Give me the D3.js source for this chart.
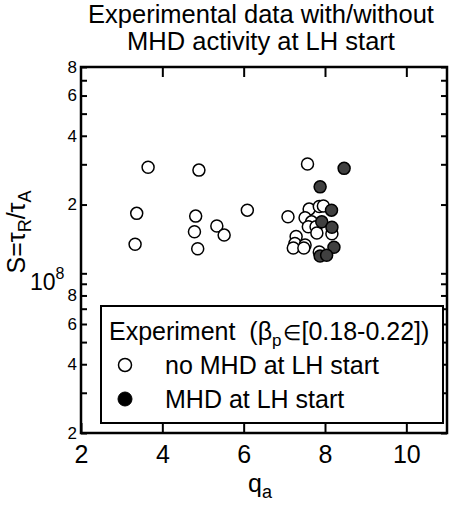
<!DOCTYPE html>
<html><head><meta charset="utf-8">
<script src="https://cdn.jsdelivr.net/npm/d3@7"></script>
<style>body{margin:0;background:#fff} text{font-family:"Liberation Sans",Arial,Helvetica,sans-serif;fill:#000}</style>
</head><body><svg id="c" width="449" height="513"></svg>
<script>
// q_a values and S values (units of 1e8)
const noMhdQ = [3.65,4.90,3.37,4.82,4.79,5.34,5.52,3.33,4.87,6.09,7.57,7.09,7.61,7.86,7.96,7.51,7.67,7.59,7.78,7.80,7.29,7.26,7.22,7.51,7.48,7.86,8.17];
const noMhdS = [2.91,2.83,1.83,1.78,1.52,1.61,1.47,1.34,1.28,1.89,3.01,1.77,1.91,1.96,1.97,1.75,1.68,1.60,1.60,1.50,1.45,1.35,1.29,1.33,1.29,1.24,1.49];
const mhdQ = [8.47,7.88,8.16,7.92,8.17,8.22,7.88,8.04];
const mhdS = [2.88,2.39,1.89,1.68,1.59,1.30,1.19,1.20];
const xTickValues = [2,4,6,8,10];
const yTickValues = [2e7,3e7,4e7,5e7,6e7,7e7,8e7,9e7,1e8,2e8,3e8,4e8,5e8,6e8,7e8,8e8];
const yTickLabels = ["2","","4","","6","","8","","","2","","4","","6","","8"];
const titleLines = ["Experimental data with/without","MHD activity at LH start"];

const svg = d3.select("#c");
const L=81,R=447,T=67,B=433;
const x = d3.scaleLinear().domain([2,11]).range([L,R]);
const y = d3.scaleLog().domain([2e7,8e8]).range([B,T]);

// title
svg.append("g").selectAll("text").data(titleLines).join("text")
  .attr("x",261).attr("y",(d,i)=>23+i*27).attr("text-anchor","middle")
  .style("font-size","25.5px").text(d=>d);

// left axis
const gl = svg.append("g").attr("transform",`translate(${L},0)`)
  .call(d3.axisLeft(y).tickValues(yTickValues).tickSize(-6).tickPadding(4)
    .tickFormat((d,i)=>yTickLabels[i]));
gl.select(".domain").remove();
gl.selectAll(".tick line").attr("stroke-width",2);
gl.selectAll(".tick text").style("font-size","17px").attr("font-family",null);
// 10^8 label
const t8 = svg.append("text").attr("x",30).attr("y",290).style("font-size","23px");
t8.append("tspan").text("10");
t8.append("tspan").attr("dy",-11).style("font-size","16px").text("8");

// right axis
const gr = svg.append("g").attr("transform",`translate(${R},0)`)
  .call(d3.axisRight(y).tickValues(yTickValues).tickSize(-6).tickFormat(""));
gr.select(".domain").remove();
gr.selectAll(".tick line").attr("stroke-width",2);

// bottom axis
const gb = svg.append("g").attr("transform",`translate(0,${B})`)
  .call(d3.axisBottom(x).tickValues(xTickValues).tickSize(-10).tickPadding(12));
gb.select(".domain").remove();
gb.selectAll(".tick line").attr("stroke-width",2);
gb.selectAll(".tick text").style("font-size","25px").attr("font-family",null);

// top axis
const gt = svg.append("g").attr("transform",`translate(0,${T})`)
  .call(d3.axisTop(x).tickValues(xTickValues.slice(1)).tickSize(-10).tickFormat(""));
gt.select(".domain").remove();
gt.selectAll(".tick line").attr("stroke-width",2);

// axis titles
const xl = svg.append("text").attr("x",260).attr("y",492).attr("text-anchor","middle").style("font-size","25px");
xl.append("tspan").text("q");
xl.append("tspan").attr("dy",6).style("font-size","18px").text("a");

const yl = svg.append("text").attr("transform","translate(25,232) rotate(-90)").attr("text-anchor","middle").style("font-size","25px");
yl.append("tspan").text("S=τ");
yl.append("tspan").attr("dy",6).style("font-size","18px").text("R");
yl.append("tspan").attr("dy",-6).text("/τ");
yl.append("tspan").attr("dy",6).style("font-size","18px").text("A");

// points
const open = noMhdQ.map((q,i)=>({q,s:noMhdS[i]*1e8}));
const filled = mhdQ.map((q,i)=>({q,s:mhdS[i]*1e8}));
svg.append("g").selectAll("circle").data(open).join("circle")
  .attr("cx",d=>x(d.q)).attr("cy",d=>y(d.s)).attr("r",6)
  .attr("fill","#fff").attr("stroke","#000").attr("stroke-width",1.5);
svg.append("g").selectAll("circle").data(filled).join("circle")
  .attr("cx",d=>x(d.q)).attr("cy",d=>y(d.s)).attr("r",6)
  .attr("fill","#404040").attr("stroke","#000").attr("stroke-width",1.5);

// legend
const lg = svg.append("g");
lg.append("rect").attr("x",101).attr("y",306).attr("width",342).attr("height",117)
  .attr("fill","#fff").attr("stroke","#000").attr("stroke-width",2);
const lt = lg.append("text").attr("x",109).attr("y",340).style("font-size","25px").style("white-space","pre");
lt.append("tspan").text("Experiment  (β");
lt.append("tspan").attr("dy",6).style("font-size","17px").text("p");
lt.append("tspan").attr("dy",-6).attr("dx",1).style("font-size","21px").text("∈");
lt.append("tspan").attr("dx",1).text("[0.18-0.22])");
lg.append("circle").attr("cx",125).attr("cy",365).attr("r",6.5).attr("fill","#fff").attr("stroke","#000").attr("stroke-width",1.5);
lg.append("text").attr("x",165).attr("y",374).style("font-size","25px").text("no MHD at LH start");
lg.append("circle").attr("cx",125).attr("cy",399).attr("r",7).attr("fill","#000").attr("stroke","#000").attr("stroke-width",1);
lg.append("text").attr("x",165).attr("y",408).style("font-size","25px").text("MHD at LH start");

// frame
svg.append("rect").attr("x",L).attr("y",T).attr("width",R-L).attr("height",B-T)
  .attr("fill","none").attr("stroke","#000").attr("stroke-width",2.5);
</script></body></html>
